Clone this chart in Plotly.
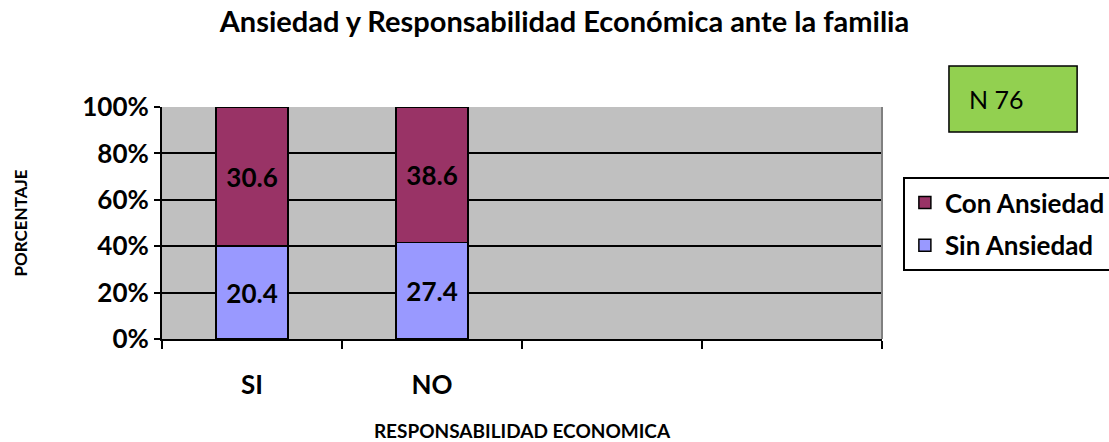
import plotly.graph_objects as go

categories = ["SI", "NO"]
sin_ansiedad = [20.4, 27.4]
con_ansiedad = [30.6, 38.6]
y_ticks = [0, 20, 40, 60, 80, 100]
y_tick_labels = ["0%", "20%", "40%", "60%", "80%", "100%"]
n_label = "N 76"

FONT = "Lato, 'Open Sans', sans-serif"
xpos = list(range(len(categories)))

fig = go.Figure()
fig.add_trace(go.Bar(
    x=xpos, y=sin_ansiedad, name="Sin Ansiedad", legendgroup="a", legendrank=2,
    marker=dict(color="#9999FF", line=dict(color="black", width=1.5)),
    text=[f"{v}" for v in sin_ansiedad], textposition="inside",
    insidetextanchor="middle", textangle=0,
    textfont=dict(family=FONT, size=26, color="black", weight="bold"),
    width=0.4,
))
fig.add_trace(go.Bar(
    x=xpos, y=con_ansiedad, name="Con Ansiedad", legendgroup="b", legendrank=1,
    marker=dict(color="#993366", line=dict(color="black", width=1.5)),
    text=[f"{v}" for v in con_ansiedad], textposition="inside",
    insidetextanchor="middle", textangle=0,
    textfont=dict(family=FONT, size=26, color="black", weight="bold"),
    width=0.4,
))

fig.update_layout(
    width=1109, height=442,
    margin=dict(l=162, r=227, t=107, b=103, autoexpand=False),
    paper_bgcolor="white", plot_bgcolor="#C0C0C0",
    barmode="stack", barnorm="percent",
    font=dict(family=FONT, color="black"),
    title=dict(text="<b>Ansiedad y Responsabilidad Económica ante la familia</b>",
               x=0.509, xanchor="center", y=0.95, yanchor="middle",
               font=dict(size=29, family=FONT)),
    showlegend=True,
    legend=dict(x=1.029, y=0.698, xanchor="left", yanchor="top",
                bordercolor="black", borderwidth=2, bgcolor="white",
                traceorder="grouped", tracegroupgap=6,
                font=dict(size=26, family=FONT, weight="bold"),
                itemwidth=30),
    xaxis=dict(
        range=[-0.5, 3.5], tickvals=xpos, ticktext=categories,
        ticks="", showgrid=False, zeroline=False, automargin=False,
        showline=True, linecolor="black", linewidth=2,
        tickfont=dict(size=26, family=FONT, weight="bold"),
        ticklabelstandoff=22,
        minor=dict(tickvals=[-0.5, 0.5, 1.5, 2.5, 3.5], ticks="outside",
                   ticklen=8, tickwidth=2, tickcolor="black", showgrid=False),
        title=dict(text="<b>RESPONSABILIDAD ECONOMICA</b>", standoff=31,
                   font=dict(size=19, family=FONT)),
    ),
    yaxis=dict(
        range=[0, 100], tickvals=y_ticks, ticktext=y_tick_labels,
        ticks="outside", ticklen=6, tickwidth=2, tickcolor="black",
        showgrid=True, gridcolor="black", gridwidth=2, automargin=False,
        zeroline=False, showline=True, linecolor="black", linewidth=2,
        tickfont=dict(size=26, family=FONT, weight="bold"),
        title=dict(text="<b>PORCENTAJE</b>", standoff=50,
                   font=dict(size=17, family=FONT)),
    ),
)

# right border of plot area
fig.add_shape(type="line", xref="paper", yref="paper", x0=1, x1=1, y0=0, y1=1,
              line=dict(color="#808080", width=2))

# N box
fig.add_shape(type="rect", xref="paper", yref="paper",
              x0=1.093, x1=1.271, y0=0.892, y1=1.177,
              fillcolor="#92D050", line=dict(color="black", width=1.5))
fig.add_annotation(xref="paper", yref="paper", x=1.118, y=1.034,
                   xanchor="left", yanchor="middle", showarrow=False,
                   text=n_label, font=dict(size=25, family=FONT, color="black"))

fig.write_html("out.html")
